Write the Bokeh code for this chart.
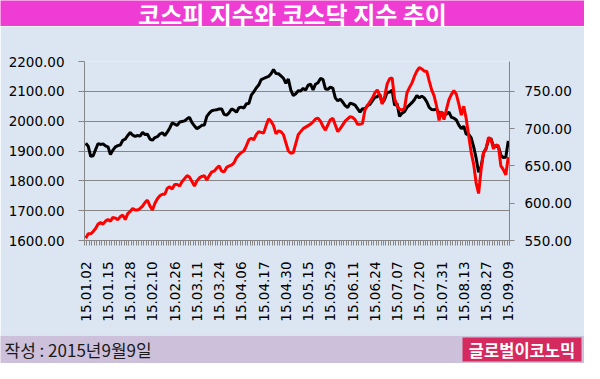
import math
from bokeh.plotting import figure
from bokeh.models import (Range1d, LinearAxis, FixedTicker, PrintfTickFormatter,
                          Legend, LegendItem, Label)
from bokeh.layouts import column
from bokeh.embed import file_html
from bokeh.resources import INLINE

# ---------------- data ----------------
title_text = "코스피 지수와 코스닥 지수 추이"
series_names = ["코스피", "코스닥"]
footer_text = "작성 : 2015년9월9일"
logo_text = "글로벌이코노믹"

tick_labels = ["15.01.02", "15.01.15", "15.01.28", "15.02.10", "15.02.26",
               "15.03.11", "15.03.24", "15.04.06", "15.04.17", "15.04.30",
               "15.05.15", "15.05.29", "15.06.11", "15.06.24", "15.07.07",
               "15.07.20", "15.07.31", "15.08.13", "15.08.27", "15.09.09"]
label_step = 9

kospi = [1926, 1916, 1882, 1884, 1905, 1925, 1922, 1924, 1917, 1914,
         1888, 1903, 1914, 1918, 1920, 1936, 1940, 1952, 1962, 1953,
         1949, 1952, 1950, 1963, 1955, 1956, 1940, 1936, 1945, 1948,
         1957, 1961, 1952, 1963, 1977, 1994, 1990, 1986, 1997, 1999,
         2001, 2008, 2013, 1995, 1984, 1975, 1980, 1986, 1987, 2016,
         2027, 2035, 2037, 2038, 2041, 2041, 2023, 2020, 2028, 2041,
         2037, 2030, 2045, 2047, 2044, 2058, 2059, 2087, 2098, 2111,
         2121, 2139, 2143, 2147, 2150, 2159, 2173, 2160, 2159, 2152,
         2144, 2127, 2141, 2104, 2086, 2092, 2102, 2101, 2110, 2104,
         2121, 2124, 2105, 2124, 2129, 2143, 2140, 2108, 2107, 2114,
         2111, 2078, 2068, 2074, 2064, 2052, 2046, 2060, 2058, 2054,
         2042, 2030, 2042, 2041, 2052, 2056, 2068, 2080, 2082, 2090,
         2061, 2074, 2097, 2097, 2104, 2053, 2059, 2016, 2027, 2032,
         2046, 2054, 2062, 2072, 2086, 2078, 2084, 2078, 2065, 2046,
         2039, 2038, 2040, 2027, 2030, 2021, 2024, 2030, 2013, 2010,
         2004, 1987, 1975, 1983, 1956, 1956, 1944, 1914, 1876, 1829,
         1847, 1894, 1908, 1937, 1942, 1915, 1916, 1915, 1886, 1878,
         1879, 1934]

kosdaq = [553, 559, 559, 562, 566, 572, 574, 572, 576, 578,
          576, 581, 580, 578, 582, 584, 578, 586, 589, 593,
          591, 591, 593, 596, 601, 604, 596, 591, 600, 606,
          610, 612, 612, 620, 622, 619, 625, 625, 623, 629,
          633, 637, 635, 629, 623, 630, 634, 636, 637, 631,
          637, 642, 643, 647, 650, 643, 642, 648, 650, 651,
          654, 661, 665, 668, 670, 677, 685, 687, 685, 692,
          696, 695, 694, 704, 713, 710, 704, 693, 697, 696,
          692, 681, 670, 667, 668, 680, 692, 696, 700, 702,
          704, 706, 709, 713, 714, 710, 703, 698, 705, 712,
          714, 705, 696, 700, 705, 710, 713, 716, 715, 712,
          706, 706, 707, 725, 731, 736, 741, 748, 752, 745,
          733, 744, 760, 767, 768, 740, 731, 726, 725, 727,
          748, 755, 761, 770, 777, 782, 780, 777, 777, 764,
          752, 744, 730, 711, 723, 712, 726, 739, 746, 751,
          746, 733, 718, 730, 713, 690, 668, 652, 627, 613,
          645, 668, 673, 688, 686, 673, 678, 677, 650, 645,
          638, 662]

left_ticks = [1600, 1700, 1800, 1900, 2000, 2100, 2200]
right_ticks = [550, 600, 650, 700, 750]
right_range = (550, 790)

# ---------------- style ----------------
W = 584
MAG = "#EF3CD2"
BG = "#DCE6F2"
FOOT = "#CCC0DA"
LOGO = "#D42A5E"
GRAY = "#868686"
KFONT = "Noto Sans CJK KR"
NFONT = "DejaVu Sans"

n = len(kospi)
xs = list(range(n))

# ---------------- title band ----------------
TH = 26
t = figure(width=W, height=TH, x_range=Range1d(0, W), y_range=Range1d(0, TH),
           x_axis_type=None, y_axis_type=None, min_border=0, frame_align=False,
           toolbar_location=None, output_backend="svg",
           background_fill_color=MAG, border_fill_color=MAG, outline_line_color=None)
t.grid.visible = False
t.add_layout(Label(x=W / 2, y=TH / 2, text=title_text, text_align="center",
                   text_baseline="middle", text_color="white", text_font=KFONT,
                   text_font_style="bold", text_font_size="24px"))

# ---------------- main chart ----------------
p = figure(width=W, height=309, x_range=Range1d(-0.5, n - 0.5),
           y_range=Range1d(left_ticks[0], left_ticks[-1]),
           toolbar_location=None, output_backend="svg", frame_align=False,
           min_border_left=84, min_border_right=75, min_border_top=35,
           min_border_bottom=95,
           background_fill_color=BG, border_fill_color=BG, outline_line_color=None)
p.extra_y_ranges = {"kq": Range1d(*right_range)}

xa = p.xaxis[0]
label_idx = list(range(0, n, label_step))
xa.ticker = FixedTicker(ticks=label_idx, minor_ticks=[i - 0.5 for i in range(n + 1)])
xa.major_label_overrides = {i: lab for i, lab in zip(label_idx, tick_labels)}
xa.major_label_orientation = math.pi / 2
xa.major_tick_out = 0
xa.major_tick_in = 0
xa.minor_tick_out = 5
xa.minor_tick_in = 0
xa.minor_tick_line_color = GRAY
xa.axis_line_color = GRAY
xa.major_label_standoff = 16
xa.major_label_text_font = NFONT
xa.major_label_text_font_size = "13.5px"
xa.major_label_text_color = "#000000"
p.xgrid.visible = False

ya = p.yaxis[0]
lt = FixedTicker(ticks=left_ticks)
ya.ticker = lt
ya.formatter = PrintfTickFormatter(format="%.2f")
ya.major_tick_out = 6
ya.major_tick_in = 0
ya.minor_tick_out = 0
ya.minor_tick_in = 0
ya.major_tick_line_color = GRAY
ya.axis_line_color = GRAY
ya.major_label_standoff = 14
ya.major_label_text_font = NFONT
ya.major_label_text_font_size = "13.5px"
ya.major_label_text_color = "#000000"
p.ygrid[0].ticker = lt
p.ygrid.grid_line_color = GRAY
p.ygrid.grid_line_width = 1

ra = LinearAxis(y_range_name="kq", ticker=FixedTicker(ticks=right_ticks),
                formatter=PrintfTickFormatter(format="%.2f"))
ra.major_tick_out = 5
ra.major_tick_in = 0
ra.minor_tick_out = 0
ra.minor_tick_in = 0
ra.major_tick_line_color = GRAY
ra.axis_line_color = GRAY
ra.major_label_standoff = 10
ra.major_label_text_font = NFONT
ra.major_label_text_font_size = "13.5px"
ra.major_label_text_color = "#000000"
p.add_layout(ra, "right")

r1 = p.line(xs, kospi, line_color="#000000", line_width=3)
r2 = p.line(xs, kosdaq, line_color="#FF0000", line_width=3, y_range_name="kq")

legend = Legend(items=[LegendItem(label=series_names[0], renderers=[r1]),
                       LegendItem(label=series_names[1], renderers=[r2])],
                location=(98, 186), orientation="horizontal",
                glyph_width=32, glyph_height=22, label_height=22,
                label_standoff=5, spacing=61, padding=0, margin=0,
                border_line_color=None, background_fill_alpha=0,
                label_text_font=KFONT, label_text_font_size="15px",
                label_text_color="#000000")
p.add_layout(legend, "center")

# ---------------- footer band ----------------
FH = 28
f = figure(width=W, height=FH, x_range=Range1d(0, W), y_range=Range1d(0, FH),
           x_axis_type=None, y_axis_type=None, min_border=0, frame_align=False,
           toolbar_location=None, output_backend="svg",
           background_fill_color=FOOT, border_fill_color=FOOT, outline_line_color=None)
f.grid.visible = False
f.add_layout(Label(x=4, y=FH / 2, text=footer_text, text_align="left",
                   text_baseline="middle", text_color="#1a1a1a", text_font=KFONT,
                   text_font_size="17px"))
f.quad(left=[462], right=[581], bottom=[2], top=[26], fill_color=LOGO, line_color=None)
f.add_layout(Label(x=521.5, y=14, text=logo_text, text_align="center",
                   text_baseline="middle", text_color="white", text_font=KFONT,
                   text_font_style="bold", text_font_size="16.5px"))

layout = column(t, p, f, spacing=0)
open("out.html", "w").write(file_html(layout, INLINE))
